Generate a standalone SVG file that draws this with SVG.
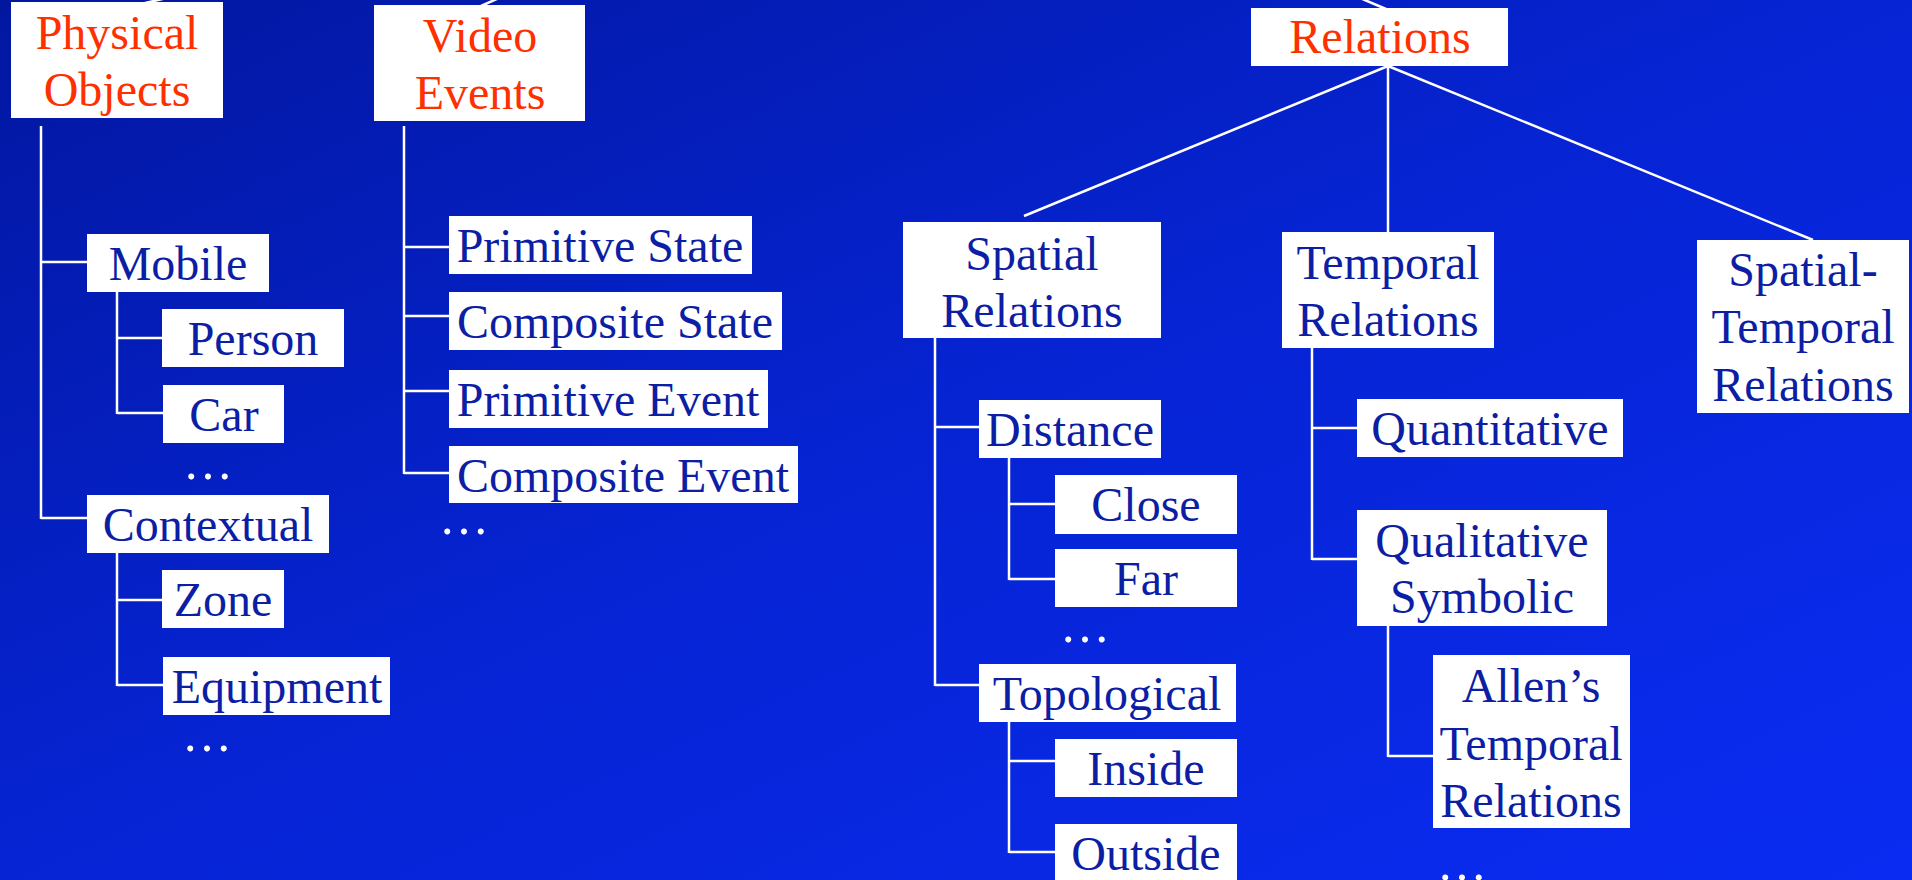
<svg xmlns="http://www.w3.org/2000/svg" width="1912" height="880" viewBox="0 0 1912 880">
<defs>
<linearGradient id="bg" x1="0" y1="0" x2="1" y2="1">
<stop offset="0" stop-color="#0217a0"/>
<stop offset="0.5" stop-color="#0624d4"/>
<stop offset="1" stop-color="#0a2cf2"/>
</linearGradient>
<style>
.box{fill:#ffffff}
.t{font-family:"Liberation Serif","Times New Roman",serif;font-size:48px;fill:#0c1ea4;text-anchor:middle}
.r{fill:#ff3000}
.dots{font-family:"Liberation Serif","Times New Roman",serif;font-size:50px;fill:#ffffff;text-anchor:middle}
.c line,.c polyline{stroke:#ffffff;stroke-width:2.5;fill:none}
</style>
</defs>
<rect x="0" y="0" width="1912" height="880" fill="url(#bg)"/>
<g class="c" id="connectors">
<line x1="145" y1="3" x2="167" y2="-2"/>
<line x1="481" y1="6" x2="499" y2="-2"/>
<line x1="1386" y1="9" x2="1360" y2="-2"/>
<line x1="41" y1="126" x2="41" y2="519"/>
<line x1="41" y1="262" x2="87" y2="262"/>
<line x1="41" y1="518" x2="87" y2="518"/>
<line x1="117" y1="292" x2="117" y2="414"/>
<line x1="117" y1="338" x2="162" y2="338"/>
<line x1="117" y1="413" x2="163" y2="413"/>
<line x1="117" y1="553" x2="117" y2="686"/>
<line x1="117" y1="600" x2="162" y2="600"/>
<line x1="117" y1="685" x2="163" y2="685"/>
<line x1="404" y1="126" x2="404" y2="474"/>
<line x1="404" y1="247" x2="449" y2="247"/>
<line x1="404" y1="316" x2="449" y2="316"/>
<line x1="404" y1="391" x2="449" y2="391"/>
<line x1="404" y1="473" x2="449" y2="473"/>
<line x1="1388" y1="66" x2="1024" y2="216"/>
<line x1="1388" y1="66" x2="1388" y2="232"/>
<line x1="1388" y1="66" x2="1813" y2="240"/>
<line x1="935" y1="338" x2="935" y2="686"/>
<line x1="935" y1="427" x2="979" y2="427"/>
<line x1="935" y1="685" x2="979" y2="685"/>
<line x1="1009" y1="458" x2="1009" y2="580"/>
<line x1="1009" y1="504" x2="1055" y2="504"/>
<line x1="1009" y1="579" x2="1055" y2="579"/>
<line x1="1009" y1="722" x2="1009" y2="853"/>
<line x1="1009" y1="761" x2="1055" y2="761"/>
<line x1="1009" y1="852" x2="1055" y2="852"/>
<line x1="1312" y1="348" x2="1312" y2="560"/>
<line x1="1312" y1="428" x2="1357" y2="428"/>
<line x1="1312" y1="559" x2="1357" y2="559"/>
<line x1="1388" y1="626" x2="1388" y2="757"/>
<line x1="1388" y1="756" x2="1433" y2="756"/>
</g>
<g id="physical-objects"><rect class="box" x="11" y="2" width="212" height="116"/><text class="t r" x="117" y="49">Physical</text><text class="t r" x="117" y="106">Objects</text></g>
<g id="video-events"><rect class="box" x="374" y="5" width="211" height="116"/><text class="t r" x="480" y="52">Video</text><text class="t r" x="480" y="109">Events</text></g>
<g id="relations"><rect class="box" x="1251" y="8" width="257" height="58"/><text class="t r" x="1380" y="53">Relations</text></g>
<g id="mobile"><rect class="box" x="87" y="234" width="182" height="58"/><text class="t" x="178" y="280">Mobile</text></g>
<g id="person"><rect class="box" x="162" y="309" width="182" height="58"/><text class="t" x="253" y="355">Person</text></g>
<g id="car"><rect class="box" x="163" y="385" width="121" height="58"/><text class="t" x="224" y="431">Car</text></g>
<g id="mobile-more"><text class="dots" x="208" y="479">…</text></g>
<g id="contextual"><rect class="box" x="87" y="495" width="242" height="58"/><text class="t" x="208" y="541">Contextual</text></g>
<g id="zone"><rect class="box" x="162" y="570" width="122" height="58"/><text class="t" x="223" y="616">Zone</text></g>
<g id="equipment"><rect class="box" x="163" y="657" width="227" height="58"/><text class="t" x="277" y="703">Equipment</text></g>
<g id="contextual-more"><text class="dots" x="207" y="751">…</text></g>
<g id="primitive-state"><rect class="box" x="449" y="216" width="303" height="58"/><text class="t" x="600" y="262">Primitive State</text></g>
<g id="composite-state"><rect class="box" x="449" y="292" width="333" height="58"/><text class="t" x="615" y="338">Composite State</text></g>
<g id="primitive-event"><rect class="box" x="449" y="370" width="319" height="58"/><text class="t" x="608" y="416">Primitive Event</text></g>
<g id="composite-event"><rect class="box" x="449" y="446" width="349" height="57"/><text class="t" x="623" y="492">Composite Event</text></g>
<g id="video-more"><text class="dots" x="464" y="534">…</text></g>
<g id="spatial-relations"><rect class="box" x="903" y="222" width="258" height="116"/><text class="t" x="1032" y="270">Spatial</text><text class="t" x="1032" y="327">Relations</text></g>
<g id="temporal-relations"><rect class="box" x="1282" y="232" width="212" height="116"/><text class="t" x="1388" y="279">Temporal</text><text class="t" x="1388" y="336">Relations</text></g>
<g id="spatial-temporal-relations"><rect class="box" x="1697" y="240" width="212" height="173"/><text class="t" x="1803" y="286">Spatial-</text><text class="t" x="1803" y="343">Temporal</text><text class="t" x="1803" y="401">Relations</text></g>
<g id="distance"><rect class="box" x="979" y="400" width="182" height="58"/><text class="t" x="1070" y="446">Distance</text></g>
<g id="close"><rect class="box" x="1055" y="475" width="182" height="59"/><text class="t" x="1146" y="521">Close</text></g>
<g id="far"><rect class="box" x="1055" y="549" width="182" height="58"/><text class="t" x="1146" y="595">Far</text></g>
<g id="distance-more"><text class="dots" x="1085" y="642">…</text></g>
<g id="topological"><rect class="box" x="979" y="664" width="257" height="58"/><text class="t" x="1107" y="710">Topological</text></g>
<g id="inside"><rect class="box" x="1055" y="739" width="182" height="58"/><text class="t" x="1146" y="785">Inside</text></g>
<g id="outside"><rect class="box" x="1055" y="824" width="182" height="58"/><text class="t" x="1146" y="870">Outside</text></g>
<g id="quantitative"><rect class="box" x="1357" y="399" width="266" height="58"/><text class="t" x="1490" y="445">Quantitative</text></g>
<g id="qualitative-symbolic"><rect class="box" x="1357" y="510" width="250" height="116"/><text class="t" x="1482" y="557">Qualitative</text><text class="t" x="1482" y="613">Symbolic</text></g>
<g id="allens-temporal-relations"><rect class="box" x="1433" y="655" width="197" height="173"/><text class="t" x="1531" y="702">Allen’s</text><text class="t" x="1531" y="760">Temporal</text><text class="t" x="1531" y="817">Relations</text></g>
<g id="allens-more"><text class="dots" x="1462" y="880">…</text></g>
</svg>
